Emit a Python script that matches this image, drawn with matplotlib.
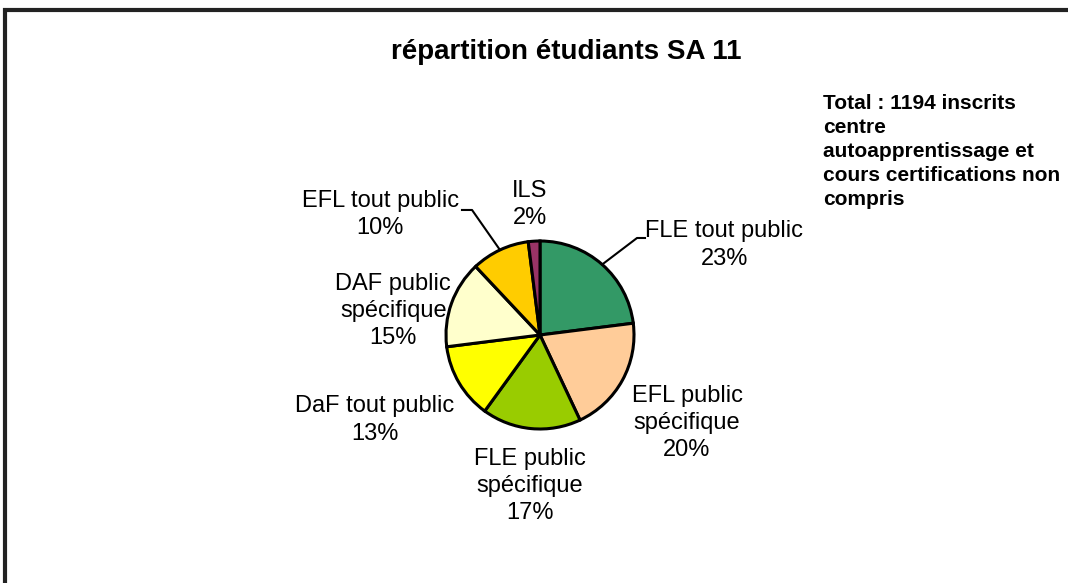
import matplotlib.pyplot as plt
import numpy as np
from matplotlib.patches import Rectangle

plt.rcParams['font.family'] = ['Liberation Sans', 'DejaVu Sans']

labels = ["FLE tout public", "EFL public\nspécifique", "FLE public\nspécifique",
          "DaF tout public", "DAF public\nspécifique", "EFL tout public", "ILS"]
shares = [23, 20, 17, 13, 15, 10, 2]
colors = ["#339966", "#FFCC99", "#99CC00", "#FFFF00", "#FFFFCC", "#FFCC00", "#993366"]
title = "répartition étudiants SA 11"
note = "Total : 1194 inscrits\ncentre\nautoapprentissage et\ncours certifications non\ncompris"

# label centres in pie-radius units (layout only)
label_pos = [(1.96, 0.957), (1.564, -0.936), (-0.106, -1.606),
             (-1.755, -0.904), (-1.56, 0.255), (-1.70, 1.28), (-0.106, 1.39)]
# leader lines: elbow point and end point
leaders = {0: ((1.032, 1.032), (1.117, 1.032)),
           5: ((-0.723, 1.33), (-0.83, 1.33))}

W, H = 1068, 583
cx, cy, r = 540, 335, 94
fig = plt.figure(figsize=(W / 100, H / 100), dpi=100)
ax = fig.add_axes([0, 0, 1, 1])

wedges, _ = ax.pie(shares, colors=colors, startangle=90, counterclock=False,
                   radius=1, center=(0, 0), frame=True,
                   wedgeprops=dict(edgecolor="black", linewidth=2.2))
ax.set_xlim(-cx / r, (W - cx) / r)
ax.set_ylim(-(H - cy) / r, cy / r)
ax.axis("off")

total = sum(shares)
for i, (w, lab, val) in enumerate(zip(wedges, labels, shares)):
    pct = round(100 * val / total)
    x, y = label_pos[i]
    ax.text(x, y, f"{lab}\n{pct}%", ha="center", va="center",
            fontsize=17, linespacing=1.3, zorder=5)
    if i in leaders:
        mid = np.deg2rad((w.theta1 + w.theta2) / 2)
        (ex, ey), (fx, fy) = leaders[i]
        ax.plot([np.cos(mid), ex, fx], [np.sin(mid), ey, fy],
                color="black", lw=1.5, zorder=4)

fig.text(0.530, 1 - 52 / H, title, ha="center", va="center",
         fontsize=20, fontweight="bold")
fig.text(823 / W, 1 - 94 / H, note, ha="left", va="top",
         fontsize=15, fontweight="bold", linespacing=1.33)

fig.patches.append(Rectangle((5 / W, -0.1), 1.2, 1 - 10 / H + 0.1,
                             transform=fig.transFigure, fill=False,
                             edgecolor="#222222", lw=3))

fig.savefig("out.png", dpi=100)
